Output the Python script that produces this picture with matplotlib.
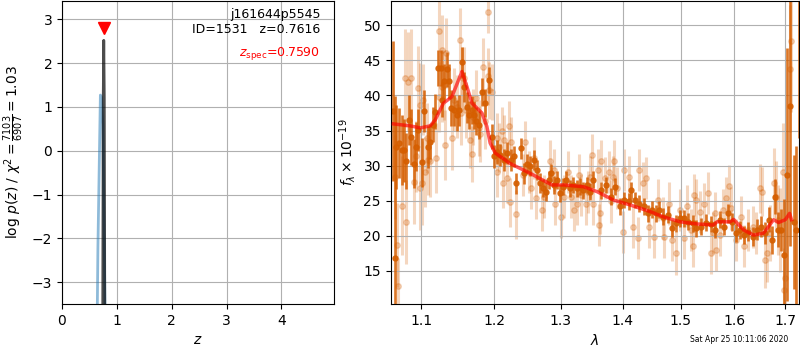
import numpy as np
import matplotlib
matplotlib.use('Agg')
import matplotlib.pyplot as plt
from matplotlib.ticker import FixedLocator, FormatStrFormatter, NullLocator

###### redshift fit: log p(z) ######
z_chi2 = [0.60, 0.655, 0.70, 0.72, 0.745, 0.79, 0.84]
logp_chi2 = [-9.0, -2.2, 1.27, 1.22, 0.6, -4.2, -9.0]

z_fine = [0.735, 0.752, 0.7616, 0.771, 0.788]
logp_fine = [-8.0, 1.2, 2.52, 1.2, -8.0]

z_best = 0.7616
z_spec = 0.7590

###### 1D spectrum ######
wave_bin = [1.0636, 1.0661, 1.0677, 1.0711, 1.0745, 1.0774, 1.0803, 1.0837, 1.0871, 1.0900,
            1.0928, 1.0954, 1.1004, 1.1041, 1.1087, 1.1120, 1.1155, 1.1188, 1.1224, 1.1257,
            1.1279, 1.1303, 1.1348, 1.1371, 1.1403, 1.1440, 1.1477, 1.1509, 1.1546, 1.1578,
            1.1615, 1.1647, 1.1684, 1.1716, 1.1747, 1.1784, 1.1829, 1.1867, 1.1922, 1.1972,
            1.2004, 1.2045, 1.2094, 1.2143, 1.2194, 1.2243, 1.2293, 1.2318, 1.2393, 1.2442,
            1.2482, 1.2531, 1.2582, 1.2631, 1.2681, 1.2731, 1.2766, 1.2815, 1.2851, 1.2890,
            1.2940, 1.2979, 1.3032, 1.3086, 1.3139, 1.3194, 1.3247, 1.3300, 1.3355, 1.3409,
            1.3462, 1.3517, 1.3640, 1.3721, 1.3801, 1.3872, 1.3947, 1.4019, 1.4106, 1.4133,
            1.4210, 1.4279, 1.4366, 1.4423, 1.4497, 1.4567, 1.4626, 1.4683, 1.4770, 1.4856,
            1.4913, 1.4983, 1.5063, 1.5143, 1.5217, 1.5278, 1.5378, 1.5470, 1.5563, 1.5637,
            1.5717, 1.5796, 1.5870, 1.5944, 1.6028, 1.6112, 1.6191, 1.6270, 1.6355, 1.6442,
            1.6520, 1.6599, 1.6665, 1.6730, 1.6797, 1.6862, 1.6915, 1.6980, 1.7048, 1.7105,
            1.7189, 1.7224, 1.7275]
flux_bin = [37.8, 16.85, 32.7, 33.2, 32.2, 32.2, 30.7, 36.5, 34.1, 30.3,
            32.7, 35.1, 30.5, 37.8, 32.7, 33.4, 35.8, 37.7, 43.9, 43.9,
            39.4, 42.0, 43.7, 42.0, 38.2, 37.9, 37.2, 37.9, 44.7, 41.2,
            38.3, 37.2, 37.9, 37.2, 36.3, 35.8, 40.5, 38.9, 42.2, 34.1,
            31.3, 32.0, 31.5, 30.8, 31.8, 30.8, 31.3, 27.5, 32.5, 28.9,
            30.3, 29.9, 30.8, 29.4, 27.5, 26.8, 26.3, 28.0, 28.9, 27.25,
            28.0, 26.1, 27.0, 28.0, 26.8, 27.25, 26.8, 27.0, 26.5, 27.25,
            26.3, 28.0, 26.5, 27.25, 25.6, 27.0, 24.2, 25.1, 24.9, 26.5,
            25.1, 24.6, 24.2, 23.2, 23.7, 23.2, 23.7, 22.7, 23.0, 21.1,
            21.8, 22.5, 22.5, 22.0, 21.8, 21.1, 21.3, 21.9, 21.7, 20.85,
            22.3, 21.3, 23.2, 22.0, 20.4, 20.85, 20.1, 20.6, 19.9, 20.85,
            21.3, 20.4, 22.3, 19.4, 25.6, 20.85, 20.85, 17.3, 28.7, 38.5,
            22.0, 20.85, 60.0]
err_bin = [10.0, 23.0, 6.0, 5.0, 5.0, 4.5, 4.0, 3.5, 4.0, 3.5,
           3.5, 3.0, 3.5, 3.0, 3.0, 2.5, 2.5, 2.5, 2.5, 2.5,
           2.5, 2.5, 2.5, 2.5, 2.5, 2.2, 2.2, 2.2, 2.2, 2.2,
           2.2, 2.0, 2.0, 2.0, 2.0, 2.0, 2.0, 2.0, 1.8, 1.8,
           1.7, 1.7, 1.6, 1.6, 1.6, 1.5, 1.5, 1.5, 1.5, 1.5,
           1.4, 1.4, 1.4, 1.4, 1.4, 1.3, 1.3, 1.3, 1.3, 1.3,
           1.3, 1.3, 1.2, 1.2, 1.2, 1.2, 1.2, 1.2, 1.2, 1.2,
           1.2, 1.2, 1.2, 1.2, 1.2, 1.2, 1.2, 1.2, 1.2, 1.2,
           1.2, 1.2, 1.2, 1.2, 1.2, 1.2, 1.2, 1.2, 1.2, 1.2,
           1.2, 1.2, 1.2, 1.2, 1.2, 1.2, 1.2, 1.2, 1.2, 1.2,
           1.2, 1.2, 1.3, 1.3, 1.3, 1.3, 1.3, 1.4, 1.4, 1.5,
           1.5, 1.6, 1.8, 2.0, 2.5, 2.5, 3.0, 8.0, 18.0, 20.0,
           9.5, 12.0, 26.0]

wave_raw = [1.0661, 1.0691, 1.0700, 1.0752, 1.0786, 1.0803, 1.0828, 1.0871, 1.0900, 1.0928,
            1.0954, 1.0984, 1.0990, 1.1004, 1.1028, 1.1051, 1.1073, 1.1096, 1.1120, 1.1202,
            1.1234, 1.1240, 1.1271, 1.1279, 1.1303, 1.1316, 1.1334, 1.1409, 1.1440, 1.1477,
            1.1523, 1.1532, 1.1546, 1.1578, 1.1610, 1.1656, 1.1684, 1.1706, 1.1747, 1.1784,
            1.1807, 1.1839, 1.1876, 1.1908, 1.1912, 1.1936, 1.1972, 1.2045, 1.2050, 1.2069,
            1.2120, 1.2129, 1.2143, 1.2184, 1.2218, 1.2233, 1.2243, 1.2318, 1.2418, 1.2452,
            1.2516, 1.2542, 1.2591, 1.2616, 1.2716, 1.2740, 1.2830, 1.2890, 1.2916, 1.3000,
            1.3053, 1.3107, 1.3162, 1.3204, 1.3247, 1.3284, 1.3323, 1.3392, 1.3430, 1.3462,
            1.3501, 1.3505, 1.3586, 1.3603, 1.3624, 1.3640, 1.3711, 1.3764, 1.3801, 1.3840,
            1.3856, 1.3909, 1.4002, 1.4019, 1.4106, 1.4163, 1.4250, 1.4279, 1.4336, 1.4393,
            1.4452, 1.4539, 1.4596, 1.4683, 1.4712, 1.4799, 1.4844, 1.4913, 1.4983, 1.5063,
            1.5124, 1.5185, 1.5235, 1.5248, 1.5285, 1.5346, 1.5426, 1.5500, 1.5550, 1.5593,
            1.5637, 1.5656, 1.5735, 1.5778, 1.5841, 1.5889, 1.5933, 1.6028, 1.6126, 1.6191,
            1.6270, 1.6355, 1.6422, 1.6487, 1.6541, 1.6599, 1.6639, 1.6704, 1.6783, 1.6817,
            1.6848, 1.6901, 1.6947, 1.6967, 1.7000, 1.7090, 1.7119]
flux_raw = [28.4, 18.7, 12.8, 24.3, 42.45, 22.0, 41.97, 42.5, 27.7, 31.3,
            41.0, 38.6, 26.8, 27.5, 39.4, 29.1, 33.9, 30.8, 30.6, 31.05,
            49.1, 39.8, 46.5, 41.25, 41.5, 32.95, 46.0, 33.9, 39.4, 38.4,
            47.9, 37.5, 42.45, 42.45, 37.9, 33.7, 31.6, 36.9, 39.6, 35.3,
            34.5, 44.1, 36.3, 42.7, 51.85, 40.7, 40.5, 34.0, 29.1, 32.6,
            34.9, 27.5, 33.7, 28.2, 35.65, 24.8, 33.4, 23.1, 28.7, 33.4,
            29.1, 26.8, 31.05, 25.35, 23.7, 25.6, 30.6, 29.4, 24.6, 22.7,
            25.6, 29.1, 25.6, 23.7, 24.6, 28.7, 25.8, 24.6, 26.3, 28.4,
            31.5, 24.6, 29.4, 21.55, 23.2, 30.6, 28.2, 29.1, 24.9, 28.4,
            30.6, 26.8, 20.6, 29.4, 28.4, 21.3, 19.65, 29.4, 27.5, 28.2,
            21.3, 19.9, 25.1, 22.5, 19.9, 24.6, 19.4, 17.5, 23.7, 19.65,
            24.2, 20.85, 18.5, 25.8, 25.1, 23.45, 24.55, 26.1, 17.6, 20.4,
            23.2, 18.0, 20.1, 23.7, 25.35, 27.1, 23.9, 19.4, 22.7, 18.5,
            20.85, 21.3, 20.4, 26.8, 26.3, 16.6, 17.5, 20.4, 27.5, 25.6,
            22.3, 20.85, 29.1, 12.3, 14.0, 43.8, 47.7]
err_raw = [6.0, 6.0, 4.0, 7.0, 7.0, 6.0, 7.0, 7.0, 6.0, 5.0,
           6.0, 6.0, 6.0, 6.0, 5.0, 5.0, 5.0, 5.0, 5.0, 5.0,
           5.0, 5.0, 5.0, 5.0, 5.0, 5.0, 5.0, 4.5, 4.5, 4.5,
           4.5, 4.5, 4.5, 4.5, 4.0, 4.0, 4.0, 4.0, 4.0, 4.0,
           4.0, 4.0, 4.0, 4.0, 3.0, 4.0, 4.0, 3.5, 3.5, 3.5,
           3.5, 3.5, 3.5, 3.5, 3.5, 3.5, 3.5, 3.5, 3.0, 3.0,
           3.0, 3.0, 3.0, 3.0, 3.0, 3.0, 3.0, 3.0, 3.0, 3.0,
           3.0, 3.0, 3.0, 3.0, 3.0, 3.0, 3.0, 3.0, 3.0, 3.0,
           3.0, 3.0, 3.0, 3.0, 3.0, 3.0, 3.0, 3.0, 3.0, 3.0,
           3.0, 3.0, 3.0, 3.0, 3.0, 3.0, 3.0, 3.0, 3.0, 3.0,
           3.0, 3.0, 3.0, 3.0, 3.0, 3.0, 3.0, 3.0, 3.0, 3.0,
           3.0, 3.0, 3.0, 3.0, 3.0, 3.0, 3.0, 3.0, 3.0, 3.0,
           3.0, 3.0, 3.0, 3.0, 3.0, 3.0, 3.0, 3.0, 3.0, 3.0,
           3.0, 3.0, 3.0, 3.5, 3.5, 4.0, 4.0, 4.0, 5.0, 5.0,
           5.0, 6.0, 7.0, 6.0, 8.0, 9.0, 10.0]

wave_model = [1.0641, 1.0856, 1.0988, 1.1118, 1.1185, 1.1297, 1.1411, 1.1549, 1.1618, 1.1688,
              1.1828, 1.1898, 1.1946, 1.2018, 1.2235, 1.2532, 1.2862, 1.3042, 1.3357, 1.3574,
              1.3845, 1.4124, 1.4466, 1.4698, 1.4995, 1.5297, 1.5605, 1.5667, 1.5921, 1.5984,
              1.6176, 1.6371, 1.6568, 1.6767, 1.6866, 1.7003, 1.7091, 1.7130]
flux_model = [35.94, 35.66, 35.37, 35.66, 36.5, 38.9, 39.8, 43.4, 41.25, 38.9,
              37.5, 35.6, 33.2, 31.8, 30.3, 28.9, 27.25, 27.25, 27.0, 26.3,
              25.1, 24.4, 23.45, 22.7, 22.0, 21.7, 21.55, 22.0, 22.0, 22.35,
              20.85, 20.1, 20.4, 22.3, 21.9, 22.3, 23.2, 22.3]

lam_ticks = [1.1, 1.2, 1.3, 1.4, 1.5, 1.6, 1.7]
g141 = (0.8352941176470589, 0.3686274509803922, 0.0)

fig = plt.figure(figsize=(8, 3.5), dpi=100)

ax = fig.add_axes([0.0775, 0.1314, 0.34, 0.866])
ax.plot(z_chi2, logp_chi2, color='tab:blue', alpha=0.5, lw=2)
ax.plot(z_fine, logp_fine, color='k', alpha=0.7, lw=2)
ax.plot([z_spec], [2.8], marker='v', color='r', markersize=8, linestyle='None')
ax.set_xlim(0, 4.96)
ax.set_ylim(-3.5, 3.42)
ax.set_xticks([0, 1, 2, 3, 4])
ax.set_yticks([-3, -2, -1, 0, 1, 2, 3])
ax.grid()
ax.set_xlabel(r'$z$')
ax.set_ylabel(r'$\log\,p(z)$ / $\chi^2=\frac{7103}{6907}=1.03$')
ax.text(0.95, 0.975, 'j161644p5545\nID=1531   z={0:.4f}'.format(z_best),
        ha='right', va='top', transform=ax.transAxes, fontsize=9)
ax.text(0.95, 0.828, r'$z_\mathrm{spec}$' + '={0:.4f}'.format(z_spec),
        ha='right', va='center', transform=ax.transAxes, fontsize=9, color='r')

ax2 = fig.add_axes([0.4884, 0.1314, 0.5104, 0.866])
ax2.errorbar(wave_raw, flux_raw, yerr=err_raw, marker='o', markersize=4, color=g141,
             alpha=0.25, linestyle='None', elinewidth=2.2, zorder=1)
ax2.errorbar(wave_bin, flux_bin, yerr=err_bin, marker='o', markersize=3.6, color=g141,
             alpha=0.85, linestyle='None', elinewidth=1.9, zorder=2)
ax2.plot(wave_model, flux_model, color='r', alpha=0.65, lw=2.5, zorder=3)

ax2.set_xscale('log')
ax2.set_xlim(1.0606, 1.7285)
ax2.xaxis.set_major_locator(FixedLocator(lam_ticks))
ax2.xaxis.set_major_formatter(FormatStrFormatter('%.1f'))
ax2.xaxis.set_minor_locator(NullLocator())
ax2.set_ylim(10.3, 53.45)
ax2.set_yticks([15, 20, 25, 30, 35, 40, 45, 50])
ax2.grid()
ax2.set_xlabel(r'$\lambda$')
ax2.set_ylabel(r'$f_\lambda\times10^{-19}$')

fig.text(0.985, 0.031, 'Sat Apr 25 10:11:06 2020', ha='right', va='center', fontsize=5.5)

fig.savefig('out.png', dpi=100)
